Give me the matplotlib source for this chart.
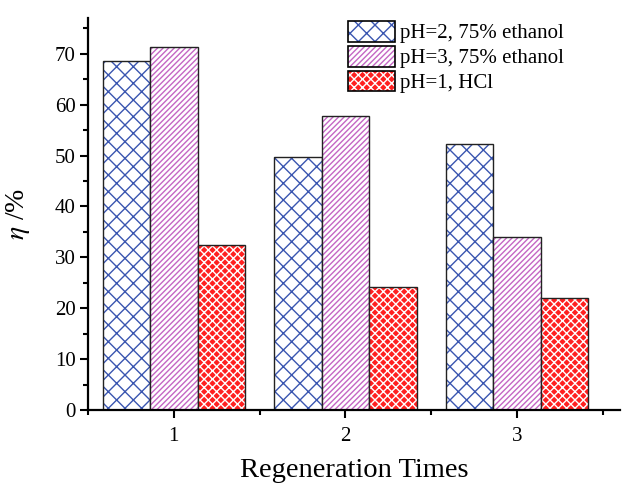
import numpy as np
import matplotlib
matplotlib.use('Agg')
import matplotlib.pyplot as plt
import matplotlib.patches as mpatches
from matplotlib.legend_handler import HandlerTuple
from matplotlib.ticker import MultipleLocator

plt.rcParams['font.family'] = ['Liberation Serif', 'DejaVu Serif']
plt.rcParams['mathtext.fontset'] = 'stix'
plt.rcParams['hatch.linewidth'] = 1.0

# data
times = [1, 2, 3]
labels = ['pH=2, 75% ethanol', 'pH=3, 75% ethanol', 'pH=1, HCl']
ph2_ethanol = [68.5, 49.8, 52.3]
ph3_ethanol = [71.4, 57.8, 34.0]
ph1_hcl = [32.5, 24.2, 22.1]

# (facecolor, hatch colour, hatch) for each series
styles = [('white', '#3a56b0', 'xx'),
          ('white', '#c466c4', '//////'),
          ('#ff2020', 'white', 'xxxx')]

fig = plt.figure(figsize=(6.22, 4.86), dpi=100)
ax = fig.add_axes([0.1415, 0.156, 0.855, 0.807])

x = np.array(times, dtype=float)
w = 0.277
series = [ph2_ethanol, ph3_ethanol, ph1_hcl]
offsets = [-w, 0, w]

handles = []
for vals, off, (fc, hc, hatch) in zip(series, offsets, styles):
    ax.bar(x + off, vals, w, facecolor=fc, edgecolor=hc, hatch=hatch, linewidth=0)
    # black outline on top
    ax.bar(x + off, vals, w, facecolor='none', edgecolor='#222222', linewidth=1.0)
    handles.append((mpatches.Patch(facecolor=fc, edgecolor=hc, hatch=hatch, linewidth=0),
                    mpatches.Patch(facecolor='none', edgecolor='black', linewidth=1.2)))

ax.set_xlim(0.5, 3.6)
ax.set_ylim(0, 77)
ax.set_xticks(times)
ax.xaxis.set_minor_locator(MultipleLocator(0.5))
ax.yaxis.set_major_locator(MultipleLocator(10))
ax.yaxis.set_minor_locator(MultipleLocator(5))

for s in ['top', 'right']:
    ax.spines[s].set_visible(False)
for s in ['left', 'bottom']:
    ax.spines[s].set_linewidth(1.6)

ax.tick_params(axis='both', which='major', direction='out', length=6, width=1.5, labelsize=15)
ax.tick_params(axis='both', which='minor', direction='out', length=3.5, width=1.5)
ax.tick_params(axis='x', which='major', pad=6)
ax.tick_params(axis='y', which='major', pad=3)

ax.set_xlabel('Regeneration Times', fontsize=20.5, labelpad=9)
ax.set_ylabel(r'$\eta$ /%', fontsize=20, labelpad=16)

leg = ax.legend(handles, labels, loc='upper left', bbox_to_anchor=(348 / 622, 1 - 21 / 486),
                bbox_transform=fig.transFigure, frameon=False, fontsize=15,
                handlelength=2.25, handleheight=1.15, labelspacing=0.12,
                handletextpad=0.25, borderpad=0, borderaxespad=0,
                handler_map={tuple: HandlerTuple(ndivide=1, pad=0)})

fig.savefig('out.png', dpi=100)
